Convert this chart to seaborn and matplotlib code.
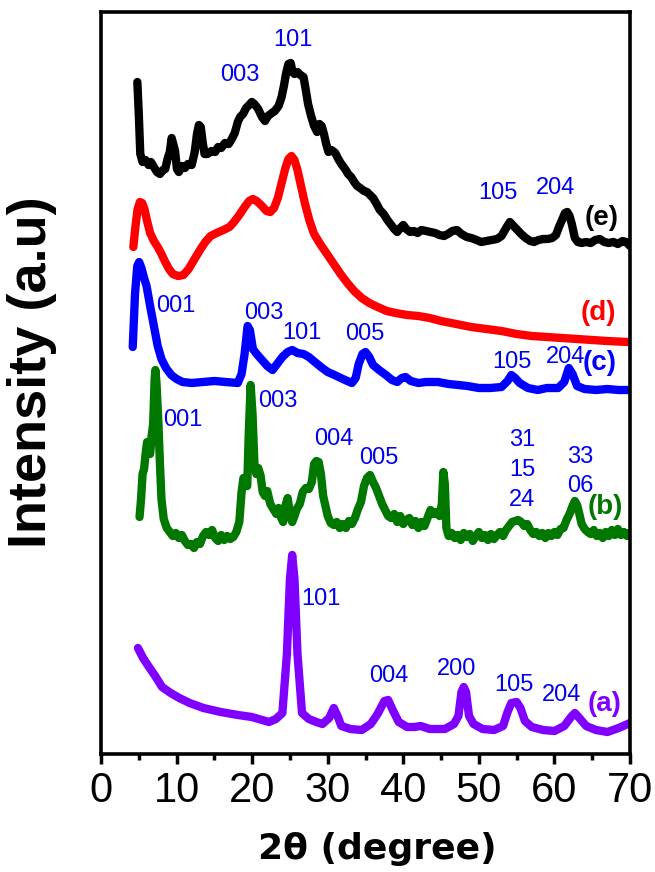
import matplotlib
matplotlib.use("Agg")
import matplotlib.pyplot as plt
from matplotlib.ticker import MultipleLocator
import pandas as pd
import seaborn as sns

# ---- diffraction patterns (2theta in degrees, stacked intensity in a.u.) ----
x_a = [4.89, 5.57, 6.26, 7.17, 8.08, 9.22, 10.36, 11.73, 13.55, 15.84, 18.12,
       19.95, 22.23, 23.14, 24.0, 24.6, 25.0, 25.3, 25.6, 26.0, 26.6,
       27.5, 28.5, 29.3, 30.2, 30.8, 31.3, 31.8, 33.0, 34.5, 35.7, 36.6, 37.5,
       38.0, 38.6, 39.4, 40.5, 41.5, 42.3, 43.5, 45.5, 46.7, 47.3, 47.7, 48.0,
       48.3, 48.7, 49.3, 50.5, 52.0, 53.2, 53.8, 54.3, 55.0, 55.5, 56.1, 57.0,
       58.5, 60.0, 61.3, 62.2, 62.7, 63.3, 64.2, 65.5, 67.0, 68.5, 70.0]
y_a = [106, 96, 88, 78, 67, 61, 56, 51, 46, 42, 39,
       37, 32, 35, 41, 100, 175, 199, 175, 100, 41,
       35, 32, 30, 36, 46, 38, 28, 25, 24, 30, 40, 53,
       54, 44, 32, 27, 27, 28, 25, 25, 30, 38, 62, 67,
       62, 38, 30, 25, 24, 28, 42, 51, 52, 46, 33, 27,
       24, 23, 28, 37, 41, 36, 28, 24, 22, 26, 31]

x_b = [5.1, 5.3, 5.5, 5.7, 5.9, 6.1, 6.3, 6.5, 6.7, 6.9, 7.1, 7.2, 7.35, 7.6,
       7.8, 8.0, 8.3, 8.7, 9.1, 9.5, 9.9, 10.3, 10.7, 11.1, 11.5, 11.9, 12.3,
       12.7, 13.1, 13.5, 13.9, 14.3, 14.7, 15.1, 15.5, 15.9, 16.3, 16.7, 17.1,
       17.5, 17.9, 18.3, 18.6, 18.85, 19.1, 19.35, 19.55, 19.8, 20.05, 20.3,
       20.55, 20.8, 21.1, 21.4, 21.7, 22.0, 22.4, 22.8, 23.2, 23.5, 23.8, 24.1,
       24.4, 24.7, 25.0, 25.3, 25.6, 25.9, 26.3, 26.7, 27.1, 27.5, 27.9, 28.2,
       28.5, 28.8, 29.1, 29.4, 29.7, 30.0, 30.4, 30.8, 31.2, 31.6, 32.0, 32.4,
       32.8, 33.2, 33.6, 34.0, 34.4, 34.8, 35.2, 35.6, 36.0, 36.4, 36.8, 37.2,
       37.6, 38.0, 38.4, 38.8, 39.2, 39.6, 40.0, 40.4, 40.8, 41.2, 41.6, 42.0,
       42.4, 42.8, 43.2, 43.6, 44.0, 44.4, 44.8, 45.1, 45.3, 45.5, 45.7, 46.0,
       46.4, 46.8, 47.2, 47.6, 48.0, 48.4, 48.8, 49.2, 49.6, 50.0, 50.4, 50.8,
       51.2, 51.6, 52.0, 52.4, 52.8, 53.2, 53.6, 54.0, 54.4, 54.8, 55.2, 55.6,
       56.0, 56.4, 56.8, 57.2, 57.6, 58.0, 58.4, 58.8, 59.2, 59.6, 60.0, 60.4,
       60.8, 61.2, 61.6, 62.0, 62.4, 62.7, 63.0, 63.3, 63.6, 64.0, 64.4, 64.8,
       65.2, 65.6, 66.0, 66.4, 66.8, 67.2, 67.6, 68.0, 68.4, 68.8, 69.2, 69.6,
       69.9]
y_b = [237, 255, 280, 285, 300, 312, 305, 300, 318, 330, 375, 384, 370, 330,
       290, 255, 235, 226, 222, 218, 221, 216, 219, 213, 209, 210, 206,
       212, 210, 218, 222, 219, 224, 216, 213, 219, 214, 218, 215,
       217, 222, 232, 262, 276, 268, 268, 320, 369, 340, 290,
       280, 286, 279, 262, 258, 263, 250, 245, 240, 246, 237, 232,
       248, 256, 240, 232, 238, 245, 250, 262, 266, 265, 272, 290,
       293, 292, 280, 258, 248, 238, 231, 229, 232, 226, 230, 226,
       233, 230, 236, 245, 252, 268, 276, 279, 272, 266, 258, 250,
       244, 238, 236, 240, 232, 238, 230, 234, 236, 229, 233, 226,
       232, 228, 236, 244, 240, 242, 238, 250, 282, 270, 226, 218,
       221, 216, 219, 214, 221, 217, 220, 213, 218, 222, 216, 219,
       214, 220, 215, 219, 222, 218, 224, 228, 232, 233, 234, 232,
       228, 230, 224, 220, 222, 218, 221, 216, 221, 218, 222, 219,
       225, 226, 234, 240, 248, 253, 249, 240, 230, 225, 222, 220,
       224, 218, 221, 216, 222, 218, 224, 219, 225, 219, 222, 218,
       221]

x_c = [4.2, 4.5, 4.8, 5.05, 5.35, 5.7, 6.03, 6.5, 7.0, 7.5, 8.0, 8.6, 9.3,
       10.0, 10.8, 12.0, 13.5, 15.0, 16.5, 18.1, 18.6, 19.0, 19.4, 19.7, 20.1,
       20.6, 21.3, 22.0, 22.7, 23.3, 24.0, 24.7, 25.3, 26.0, 26.8, 27.5, 28.3,
       29.1, 30.0, 30.9, 32.0, 33.2, 33.7, 34.1, 34.6, 35.0, 35.5, 36.0, 36.8,
       37.7, 38.5, 39.2, 39.8, 40.3, 41.0, 42.0, 43.0, 44.6, 46.0, 47.3, 48.5,
       50.0, 51.5, 53.0, 53.8, 54.3, 54.8, 55.4, 56.5, 57.8, 59.0, 60.5, 61.3,
       61.9, 62.4, 63.0, 64.0, 65.5, 67.0, 68.5, 69.8]
y_c = [407, 460, 488, 492, 486, 476, 468, 448, 428, 408, 395, 386, 379,
       375, 372, 371, 372, 373, 372, 371, 380, 400, 428, 424, 405,
       400, 394, 388, 384, 390, 397, 402, 404, 401, 400, 397, 392,
       387, 382, 379, 375, 371, 376, 390, 400, 402, 397, 389, 384,
       379, 374, 372, 376, 377, 373, 371, 372, 372, 370, 369, 368,
       366, 366, 367, 373, 379, 376, 371, 366, 364, 366, 366, 372,
       386, 380, 368, 365, 364, 365, 364, 364]

x_d = [4.28, 4.55, 4.85, 5.15, 5.45, 5.75, 6.1, 6.5, 7.0, 7.5, 8.0, 8.5, 9.0,
       9.5, 10.2, 10.9, 11.6, 12.3, 13.1, 13.8, 14.5, 15.3, 16.2, 17.0, 17.6,
       18.3, 19.0, 19.6, 20.1, 20.6, 21.3, 21.9, 22.4, 22.9, 23.4, 23.9, 24.4,
       24.8, 25.2, 25.6, 26.0, 26.5, 27.0, 27.6, 28.2, 29.0, 29.9, 30.8, 31.7,
       32.6, 33.5, 34.5, 35.5, 36.6, 37.8, 39.0, 40.5, 42.0, 43.5, 45.0, 47.0,
       49.0, 51.0, 53.0, 55.0, 57.0, 59.0, 61.0, 63.0, 65.0, 67.0, 69.7]
y_d = [507, 527, 545, 552, 551, 545, 533, 521, 513, 507, 500, 492, 485,
       480, 478, 479, 485, 494, 504, 512, 518, 521, 524, 527, 532,
       539, 547, 553, 555, 553, 548, 543, 542, 546, 556, 571, 586,
       595, 598, 594, 584, 567, 550, 533, 520, 510, 500, 490, 480,
       471, 463, 456, 451, 447, 443, 441, 439, 438, 436, 433, 430,
       427, 425, 423, 420, 418, 417, 416, 415, 414, 413, 412]

x_e = [4.81, 5.0, 5.2, 5.5, 5.9, 6.3, 6.6, 7.0, 7.4, 7.8, 8.2, 8.5, 8.8, 9.1,
       9.35, 9.6, 9.8, 10.05, 10.3, 10.7, 11.1, 11.5, 12.0, 12.4, 12.7, 12.95,
       13.2, 13.45, 13.7, 14.1, 14.6, 15.1, 15.5, 15.9, 16.4, 16.9, 17.3, 17.7,
       18.1, 18.4, 18.8, 19.2, 19.6, 19.95, 20.3, 20.8, 21.3, 21.7, 22.1, 22.6,
       23.0, 23.5, 23.9, 24.2, 24.5, 24.8, 25.1, 25.35, 25.6, 26.0, 26.4, 26.8,
       27.1, 27.4, 27.8, 28.2, 28.6, 28.9, 29.2, 29.5, 29.8, 30.1, 30.5, 31.0,
       31.4, 31.8, 32.3, 32.7, 33.1, 33.5, 33.9, 34.3, 34.8, 35.2, 35.6, 36.0,
       36.4, 36.9, 37.4, 37.9, 38.3, 38.8, 39.2, 39.6, 40.0, 40.4, 40.9, 41.4,
       41.9, 42.4, 43.0, 43.6, 44.2, 44.8, 45.4, 45.9, 46.5, 47.1, 47.7, 48.4,
       49.0, 49.7, 50.3, 51.0, 51.7, 52.4, 53.0, 53.6, 54.1, 54.6, 55.1, 55.6,
       56.2, 56.8, 57.3, 57.9, 58.5, 59.1, 59.7, 60.2, 60.6, 61.0, 61.4, 61.7,
       62.0, 62.3, 62.7, 63.1, 63.6, 64.2, 64.8, 65.4, 66.0, 66.6, 67.2, 67.8,
       68.4, 69.0, 69.5, 70.0]
y_e = [672, 640, 600, 592, 594, 589, 592, 587, 582, 580, 584, 585, 595, 602,
       616, 609, 603, 585, 582, 588, 586, 590, 589, 602, 620, 629,
       627, 612, 600, 600, 603, 602, 607, 606, 611, 610, 615, 621,
       632, 637, 640, 646, 649, 652, 650, 645, 637, 633, 638, 641,
       643, 648, 657, 668, 681, 690, 691, 682, 680, 682, 679, 677,
       664, 650, 638, 628, 622, 630, 628, 620, 610, 602, 604, 601,
       595, 590, 585, 580, 577, 572, 568, 566, 563, 562, 559, 556,
       551, 544, 540, 534, 530, 525, 522, 526, 529, 525, 522, 523,
       521, 524, 523, 522, 521, 519, 518, 520, 523, 524, 520, 517,
       516, 514, 512, 513, 514, 515, 518, 526, 532, 528, 524, 520,
       516, 513, 512, 514, 515, 515, 516, 519, 527, 534, 541, 542,
       538, 530, 516, 512, 511, 512, 511, 514, 515, 512, 511, 512,
       510, 513, 512, 508]

samples = ["(a)", "(b)", "(c)", "(d)", "(e)"]
colors = ["#8000ff", "#007800", "#0000ff", "#ff0000", "#000000"]

# reflection labels: (text, 2theta, intensity)
hkl_labels = [
    ("003", 18.4, 679), ("101", 25.4, 714), ("105", 52.5, 561), ("204", 60.2, 566),
    ("001", 9.9, 448), ("003", 21.6, 441), ("101", 26.6, 421), ("005", 34.9, 420),
    ("105", 54.4, 392), ("204", 61.5, 397),
    ("001", 10.85, 334), ("003", 23.4, 353), ("004", 30.8, 315), ("005", 36.8, 296),
    ("31", 55.7, 314), ("15", 55.7, 284), ("24", 55.7, 254),
    ("33", 63.4, 297), ("06", 63.4, 268),
    ("101", 29.1, 155), ("004", 38.1, 78), ("200", 47.1, 85), ("105", 54.7, 69),
    ("204", 61.0, 59),
]
# sample tags: (2theta, intensity)
tag_pos = {"(a)": (66.7, 50), "(b)": (66.7, 247), "(c)": (66.0, 391),
           "(d)": (65.8, 441), "(e)": (66.2, 536)}

frames = []
for name, xs, ys in zip(samples, [x_a, x_b, x_c, x_d, x_e], [y_a, y_b, y_c, y_d, y_e]):
    frames.append(pd.DataFrame({"two_theta": xs, "intensity": ys, "sample": name}))
df = pd.concat(frames, ignore_index=True)

sns.set_style("white")
plt.rcParams["font.family"] = ["Liberation Sans", "DejaVu Sans"]
plt.rcParams["text.color"] = "black"
plt.rcParams["axes.labelcolor"] = "black"
plt.rcParams["xtick.color"] = "black"

fig = plt.figure(figsize=(6.55, 8.72), dpi=100)
ax = fig.add_axes([101 / 655, 1 - 754 / 872, 529 / 655, 742 / 872])

sns.lineplot(data=df, x="two_theta", y="intensity", hue="sample",
             palette=dict(zip(samples, colors)), estimator=None, sort=False,
             legend=False, linewidth=6, ax=ax,
             solid_joinstyle="round", solid_capstyle="round")

for text, xv, yv in hkl_labels:
    ax.text(xv, yv, text, color="#0000ee", fontsize=17, ha="center", va="center")

for name, col in zip(samples, colors):
    xv, yv = tag_pos[name]
    ax.text(xv, yv, name, color=col, fontsize=20, ha="center", va="center",
            fontweight="bold")

ax.set_xlim(0, 70)
ax.set_ylim(0, 742)
ax.xaxis.set_major_locator(MultipleLocator(10))
ax.xaxis.set_minor_locator(MultipleLocator(5))
ax.set_yticks([])
ax.tick_params(axis="x", which="major", direction="out", length=7, width=2.5,
               labelsize=30, pad=5, bottom=True, labelcolor="black")
ax.tick_params(axis="x", which="minor", direction="out", length=4, width=2.5,
               bottom=True)
for sp in ax.spines.values():
    sp.set_linewidth(2.6)
    sp.set_color("black")

ax.set_xlabel("2\u03b8 (degree)", fontsize=26, fontweight="bold",
              family=["DejaVu Sans"], color="black")
ax.xaxis.set_label_coords(0.523, -0.105)
ax.xaxis.label.set_va("top")
ax.set_ylabel("Intensity (a.u)", fontsize=39, fontweight="bold", color="black")
ax.yaxis.set_label_coords(-0.083, 0.515)

fig.savefig("out.png", dpi=100)
